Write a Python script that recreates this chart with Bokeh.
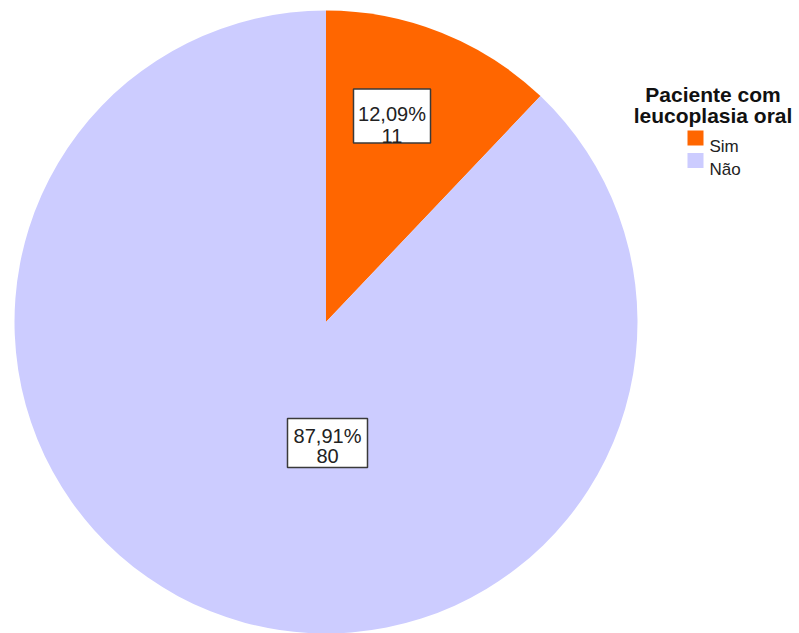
import math
from bokeh.plotting import figure
from bokeh.models import Range1d
from bokeh.embed import file_html
from bokeh.resources import INLINE
from bokeh.core.properties import value

# ---- data ----
categories = ["Sim", "Não"]
counts = [11, 80]
colors = ["#FF6600", "#CCCCFF"]
legend_title = ["Paciente com", "leucoplasia oral"]

W, H = 799, 633
def Y(py):
    return H - py

p = figure(width=W, height=H, output_backend="svg", toolbar_location=None,
           x_range=Range1d(0, W), y_range=Range1d(0, H), min_border=0)
p.axis.visible = False
p.grid.visible = False
p.outline_line_color = None
p.background_fill_color = "white"
p.border_fill_color = "white"

cx, cy, R = 325.5, 321.5, 311.5
total = sum(counts)
cum = 0.0
for cat, c, col in zip(categories, counts, colors):
    c0 = cum / total * 2 * math.pi
    cum += c
    c1 = cum / total * 2 * math.pi
    p.wedge(x=[cx], y=[Y(cy)], radius=R, start_angle=math.pi / 2 - c1,
            end_angle=math.pi / 2 - c0, direction="anticlock",
            fill_color=col, line_color=None)

# ---- slice labels ----
font = value("Liberation Sans")
box_centers = [(391.5, 115.5), (327, 442.5)]
box_sizes = [(77, 54), (80, 49)]
line_offsets = [(-2.5, 19.5), (-7.5, 12.5)]
for (bx, by), (bw, bh), (o1, o2), c in zip(box_centers, box_sizes, line_offsets, counts):
    pct = f"{c / total * 100:.2f}%".replace(".", ",")
    p.rect(x=[bx], y=[Y(by)], width=bw, height=bh, width_units="screen",
           height_units="screen", fill_color="white", line_color="#3a3a3a",
           line_width=1.5)
    p.text(x=[bx, bx], y=[Y(by + o1), Y(by + o2)], text=[pct, str(c)],
           text_align="center", text_baseline="alphabetic", text_font=font,
           text_font_size="20px", text_color="#222222")

# ---- legend ----
p.text(x=[712.5, 712.5], y=[Y(94), Y(115)], text=legend_title, text_align="center",
       text_baseline="alphabetic", text_font=font, text_font_size="21px",
       text_font_style="bold", text_color="#111111")
for i, (cat, col) in enumerate(zip(categories, colors)):
    yy = 137.5 + i * 22.5
    p.rect(x=[695], y=[Y(yy)], width=16, height=15, width_units="screen",
           height_units="screen", fill_color=col, line_color=None)
    p.text(x=[709], y=[Y(yy + 8.5)], text=[cat], text_align="left",
           text_baseline="alphabetic", text_font=font, text_font_size="17px",
           text_color="#222222")

open("out.html", "w").write(file_html(p, INLINE))
